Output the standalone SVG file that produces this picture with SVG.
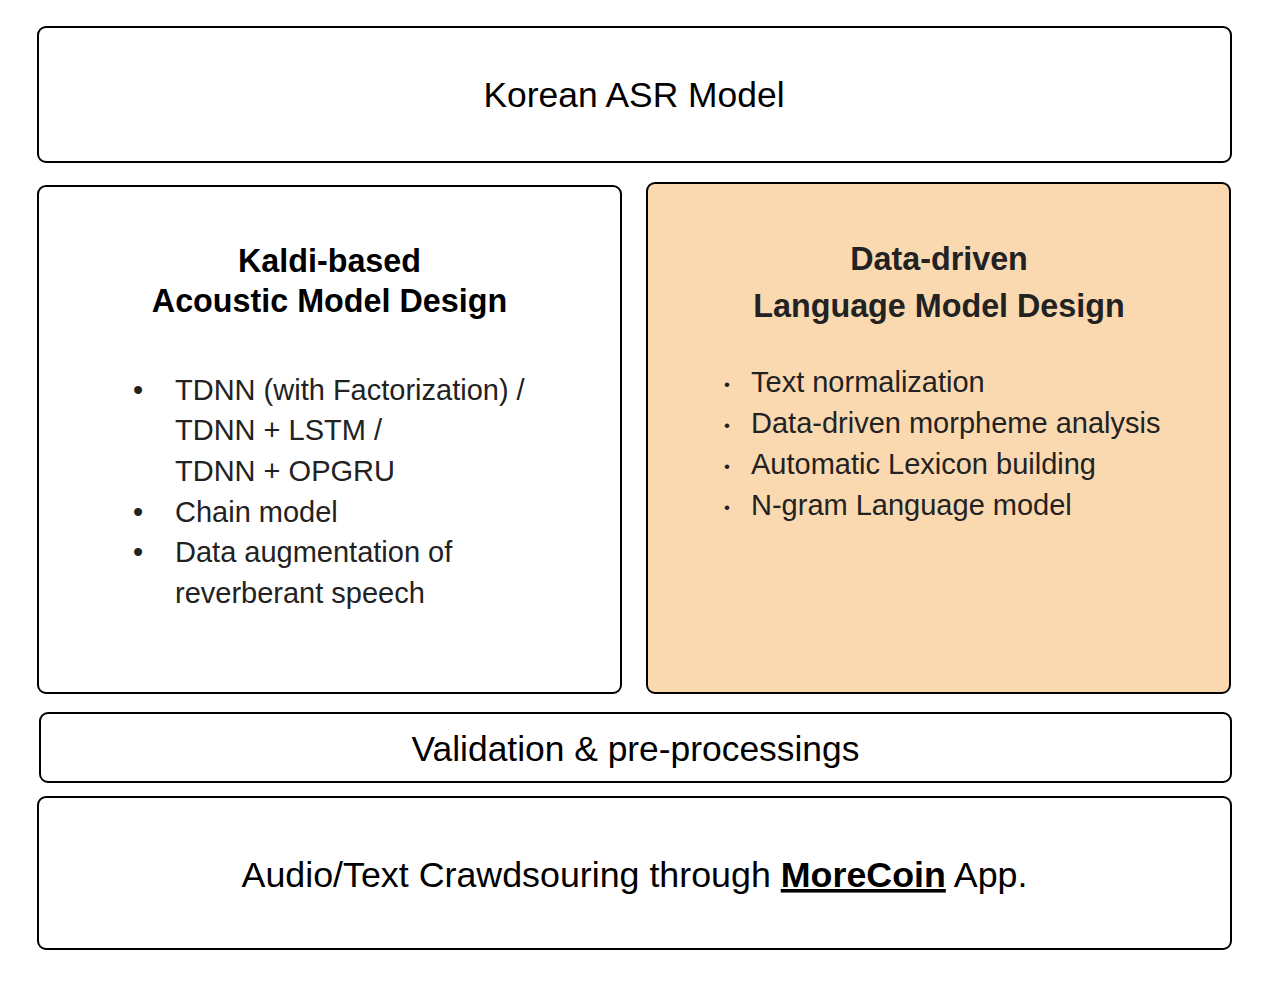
<svg xmlns="http://www.w3.org/2000/svg" width="1262" height="984" viewBox="0 0 1262 984">
  <style>
    .box { fill: #ffffff; stroke: #000000; stroke-width: 2; }
    .orange { fill: #fad9b1; }
    .big { font-family: "Liberation Sans", Arial, sans-serif; font-size: 35.4px; fill: #000000; text-anchor: middle; }
    .head { font-family: "Liberation Sans", Arial, sans-serif; font-size: 32.3px; font-weight: bold; text-anchor: middle; }
    .item { font-family: "Liberation Sans", Arial, sans-serif; font-size: 29px; fill: #222222; }
    .bul { font-family: "Liberation Sans", Arial, sans-serif; font-size: 29px; fill: #222222; text-anchor: middle; }
    .dot { font-family: "Liberation Sans", Arial, sans-serif; font-size: 17px; fill: #222222; text-anchor: middle; }
  </style>
  <rect width="1262" height="984" fill="#ffffff"/>
  <g id="korean-asr-model">
    <rect class="box" x="38" y="27" width="1193" height="135" rx="8"/>
    <text class="big" x="634" y="107">Korean ASR Model</text>
  </g>
  <g id="acoustic-model">
    <rect class="box" x="38" y="186" width="583" height="507" rx="8"/>
    <text class="head" x="329.5" y="272" fill="#000000">Kaldi-based</text>
    <text class="head" x="329.5" y="312" fill="#000000">Acoustic Model Design</text>
    <text class="bul" x="138" y="399.5">•</text>
    <text class="item" x="175" y="399.5">TDNN (with Factorization) /</text>
    <text class="item" x="175" y="440">TDNN + LSTM /</text>
    <text class="item" x="175" y="481">TDNN + OPGRU</text>
    <text class="bul" x="138" y="521.5">•</text>
    <text class="item" x="175" y="521.5">Chain model</text>
    <text class="bul" x="138" y="562">•</text>
    <text class="item" x="175" y="562">Data augmentation of</text>
    <text class="item" x="175" y="603">reverberant speech</text>
  </g>
  <g id="language-model">
    <rect class="box orange" x="647" y="183" width="583" height="510" rx="8"/>
    <text class="head" x="939" y="270" fill="#222222">Data-driven</text>
    <text class="head" x="939" y="317" fill="#222222">Language Model Design</text>
    <text class="dot" x="727" y="390">•</text>
    <text class="item" x="751" y="392">Text normalization</text>
    <text class="dot" x="727" y="431">•</text>
    <text class="item" x="751" y="433">Data-driven morpheme analysis</text>
    <text class="dot" x="727" y="472">•</text>
    <text class="item" x="751" y="474">Automatic Lexicon building</text>
    <text class="dot" x="727" y="513">•</text>
    <text class="item" x="751" y="515">N-gram Language model</text>
  </g>
  <g id="validation">
    <rect class="box" x="40" y="713" width="1191" height="69" rx="8"/>
    <text class="big" x="635.5" y="761">Validation &amp; pre-processings</text>
  </g>
  <g id="crowdsourcing">
    <rect class="box" x="38" y="797" width="1193" height="152" rx="8"/>
    <text class="big" x="634.5" y="887" style="font-size:35.8px">Audio/Text Crawdsouring through <tspan font-weight="bold" text-decoration="underline">MoreCoin</tspan> App.</text>
  </g>
  <g id="connectors"></g>
</svg>
